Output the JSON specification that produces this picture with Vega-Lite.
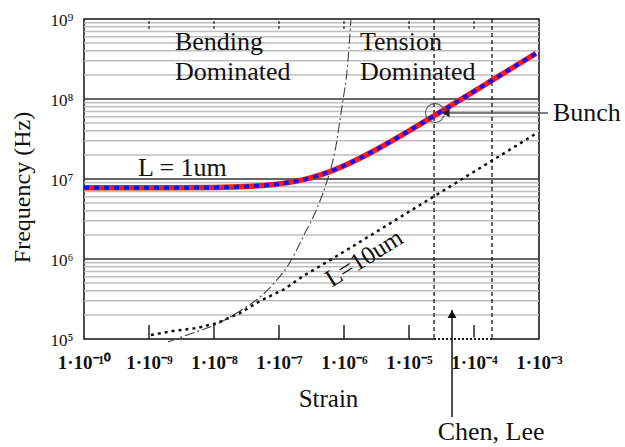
{
  "$schema": "https://vega.github.io/schema/vega-lite/v6.json",
  "width": 455,
  "height": 320,
  "autosize": {"type": "none"},
  "padding": {"left": 84, "top": 19, "right": 86, "bottom": 108},
  "background": "white",
  "config": {
    "view": {"stroke": "#111", "strokeWidth": 1.5},
    "font": "Liberation Serif"
  },
  "datasets": {
    "gridMinor": [
      {"y": 2e5}, {"y": 3e5}, {"y": 4e5}, {"y": 5e5}, {"y": 6e5}, {"y": 7e5}, {"y": 8e5}, {"y": 9e5},
      {"y": 2e6}, {"y": 3e6}, {"y": 4e6}, {"y": 5e6}, {"y": 6e6}, {"y": 7e6}, {"y": 8e6}, {"y": 9e6},
      {"y": 2e7}, {"y": 3e7}, {"y": 4e7}, {"y": 5e7}, {"y": 6e7}, {"y": 7e7}, {"y": 8e7}, {"y": 9e7},
      {"y": 2e8}, {"y": 3e8}, {"y": 4e8}, {"y": 5e8}, {"y": 6e8}, {"y": 7e8}, {"y": 8e8}, {"y": 9e8}
    ],
    "gridMajor": [{"y": 1e6}, {"y": 1e7}, {"y": 1e8}],
    "ticks": [{"x": 1e-9}, {"x": 1e-8}, {"x": 1e-7}, {"x": 1e-6}, {"x": 1e-5}, {"x": 1e-4}],
    "chen": [{"x": 2.43e-5}, {"x": 1.89e-4}],
    "l1": [
      {"x": 1e-10, "y": 7.75e6}, {"x": 1e-9, "y": 7.76e6}, {"x": 1e-8, "y": 7.85e6},
      {"x": 3.16e-8, "y": 8.06e6}, {"x": 1e-7, "y": 8.69e6}, {"x": 1.78e-7, "y": 9.35e6},
      {"x": 3.16e-7, "y": 1.043e7}, {"x": 5.62e-7, "y": 1.211e7}, {"x": 1e-6, "y": 1.463e7},
      {"x": 1.78e-6, "y": 1.828e7}, {"x": 3.16e-6, "y": 2.339e7}, {"x": 5.62e-6, "y": 3.042e7},
      {"x": 1e-5, "y": 4.0e7}, {"x": 1.78e-5, "y": 5.293e7}, {"x": 3.16e-5, "y": 7.02e7},
      {"x": 5.62e-5, "y": 9.335e7}, {"x": 1e-4, "y": 1.243e8}, {"x": 1.78e-4, "y": 1.658e8},
      {"x": 3.16e-4, "y": 2.208e8}, {"x": 5.62e-4, "y": 2.943e8}, {"x": 9e-4, "y": 3.72e8}
    ],
    "l10": [
      {"x": 1.07e-9, "y": 1.12e5}, {"x": 2.34e-9, "y": 1.26e5}, {"x": 5.47e-9, "y": 1.37e5},
      {"x": 1.11e-8, "y": 1.58e5}, {"x": 2.51e-8, "y": 2.11e5}, {"x": 5.1e-8, "y": 2.99e5},
      {"x": 1.15e-7, "y": 4.1e5}, {"x": 2.34e-7, "y": 6.1e5}, {"x": 5.62e-7, "y": 9.3e5},
      {"x": 1e-6, "y": 1.235e6}, {"x": 3.16e-6, "y": 2.19e6}, {"x": 1e-5, "y": 3.9e6},
      {"x": 3.16e-5, "y": 6.93e6}, {"x": 1e-4, "y": 1.233e7}, {"x": 3.16e-4, "y": 2.19e7},
      {"x": 9e-4, "y": 3.7e7}
    ],
    "boundary": [
      {"x": 1.96e-9, "y": 9.2e4}, {"x": 4.28e-9, "y": 1.155e5}, {"x": 1.11e-8, "y": 1.54e5},
      {"x": 2.51e-8, "y": 2.24e5}, {"x": 5.1e-8, "y": 3.35e5}, {"x": 9.31e-8, "y": 5.47e5},
      {"x": 1.33e-7, "y": 7.94e5}, {"x": 1.64e-7, "y": 1.06e6}, {"x": 2.51e-7, "y": 2.11e6},
      {"x": 3.58e-7, "y": 3.76e6}, {"x": 4.75e-7, "y": 6.68e6}, {"x": 5.67e-7, "y": 1.03e7},
      {"x": 6.78e-7, "y": 1.73e7}, {"x": 7.8e-7, "y": 3.07e7}, {"x": 8.67e-7, "y": 5.47e7},
      {"x": 9.66e-7, "y": 9.72e7}, {"x": 1.11e-6, "y": 2.18e8}, {"x": 1.28e-6, "y": 1.0e9}
    ],
    "notes": [
      {"x": 2.51e-9, "y": 5.16e8, "text": "Bending"},
      {"x": 2.51e-9, "y": 2.18e8, "text": "Dominated"},
      {"x": 1.76e-6, "y": 5.16e8, "text": "Tension"},
      {"x": 1.76e-6, "y": 2.18e8, "text": "Dominated"},
      {"x": 6.78e-10, "y": 1.37e7, "text": "L = 1um"},
      {"x": 1.64e-3, "y": 6.68e7, "text": "Bunch"}
    ]
  },
  "layer": [
    {
      "data": {"name": "gridMinor"},
      "mark": {"type": "rule", "color": "#bdbdbd", "strokeWidth": 1.5},
      "encoding": {"y": {"field": "y", "type": "quantitative"}}
    },
    {
      "data": {"name": "gridMajor"},
      "mark": {"type": "rule", "color": "#333333", "strokeWidth": 1.5},
      "encoding": {"y": {"field": "y", "type": "quantitative"}}
    },
    {
      "data": {"name": "ticks"},
      "mark": {"type": "rule", "color": "#222222", "strokeWidth": 1.5},
      "encoding": {
        "x": {"field": "x", "type": "quantitative"},
        "y": {"datum": 1e5},
        "y2": {"datum": 1.5e5}
      }
    },
    {
      "data": {"name": "ticks"},
      "mark": {"type": "rule", "color": "#222222", "strokeWidth": 1.2, "strokeDash": [3, 2]},
      "encoding": {
        "x": {"field": "x", "type": "quantitative"},
        "y": {"datum": 7.5e8},
        "y2": {"datum": 1e9}
      }
    },
    {
      "data": {"name": "chen"},
      "mark": {"type": "rule", "color": "#111111", "strokeWidth": 1.3, "strokeDash": [4, 3]},
      "encoding": {"x": {"field": "x", "type": "quantitative"}}
    },
    {
      "data": {"values": [{"x": 2.43e-5, "x2": 1.89e-4}]},
      "mark": {"type": "rule", "color": "white", "strokeWidth": 3},
      "encoding": {
        "x": {"field": "x", "type": "quantitative"},
        "x2": {"field": "x2"},
        "y": {"datum": 1e5}
      }
    },
    {
      "data": {"values": [{"x": 2.43e-5, "x2": 1.89e-4}]},
      "mark": {"type": "rule", "color": "#111111", "strokeWidth": 2, "strokeDash": [2, 2]},
      "encoding": {
        "x": {"field": "x", "type": "quantitative"},
        "x2": {"field": "x2"},
        "y": {"datum": 1e5}
      }
    },
    {
      "data": {"name": "boundary"},
      "mark": {"type": "line", "color": "#444444", "strokeWidth": 1.1, "strokeDash": [10, 3, 2, 3], "interpolate": "monotone"},
      "encoding": {
        "x": {"field": "x", "type": "quantitative"},
        "y": {"field": "y", "type": "quantitative"}
      }
    },
    {
      "data": {"name": "l10"},
      "mark": {"type": "line", "color": "#111111", "strokeWidth": 2.5, "strokeDash": [3, 4]},
      "encoding": {
        "x": {"field": "x", "type": "quantitative"},
        "y": {"field": "y", "type": "quantitative"}
      }
    },
    {
      "data": {"name": "l1"},
      "mark": {"type": "line", "color": "#ff1a1a", "strokeWidth": 5.5, "interpolate": "monotone"},
      "encoding": {
        "x": {
          "field": "x", "type": "quantitative",
          "scale": {"type": "log", "domain": [1e-10, 1e-3], "nice": false},
          "axis": {
            "values": [1e-10, 1e-9, 1e-8, 1e-7, 1e-6, 1e-5, 1e-4, 1e-3],
            "labelExpr": "datum.value < 5e-10 ? '1·10⁻¹⁰' : datum.value < 5e-9 ? '1·10⁻⁹' : datum.value < 5e-8 ? '1·10⁻⁸' : datum.value < 5e-7 ? '1·10⁻⁷' : datum.value < 5e-6 ? '1·10⁻⁶' : datum.value < 5e-5 ? '1·10⁻⁵' : datum.value < 5e-4 ? '1·10⁻⁴' : '1·10⁻³'",
            "grid": false, "ticks": false, "domain": false,
            "labelFont": "Liberation Serif", "labelFontSize": 19, "labelFontWeight": "bold",
            "labelColor": "#111111", "labelPadding": 14, "labelBaseline": "top",
            "labelFlush": false, "labelOverlap": false,
            "title": "Strain", "titleFont": "Liberation Serif", "titleFontSize": 25,
            "titleFontWeight": "normal", "titleColor": "#111111",
            "titleX": 244, "titleY": 59, "titleBaseline": "middle", "titleAnchor": "middle"
          }
        },
        "y": {
          "field": "y", "type": "quantitative",
          "scale": {"type": "log", "domain": [1e5, 1e9], "nice": false},
          "axis": {
            "values": [1e5, 1e6, 1e7, 1e8, 1e9],
            "labelExpr": "datum.value < 5e5 ? '10⁵' : datum.value < 5e6 ? '10⁶' : datum.value < 5e7 ? '10⁷' : datum.value < 5e8 ? '10⁸' : '10⁹'",
            "grid": false, "ticks": false, "domain": false,
            "labelFont": "Liberation Serif", "labelFontSize": 17,
            "labelColor": "#111111", "labelPadding": 11, "labelBaseline": "middle",
            "labelOffset": 1, "labelFlush": false, "labelOverlap": false,
            "title": "Frequency (Hz)", "titleFont": "Liberation Serif", "titleFontSize": 24,
            "titleFontWeight": "normal", "titleColor": "#111111",
            "titleAngle": -90, "titleX": -62, "titleY": 168, "titleBaseline": "middle", "titleAlign": "center"
          }
        }
      }
    },
    {
      "data": {"name": "l1"},
      "mark": {"type": "line", "color": "#1010ff", "strokeWidth": 4, "strokeDash": [5, 5], "interpolate": "monotone"},
      "encoding": {
        "x": {"field": "x", "type": "quantitative"},
        "y": {"field": "y", "type": "quantitative"}
      }
    },
    {
      "data": {"values": [{"x": 2.51e-5, "y": 6.68e7}]},
      "mark": {"type": "point", "shape": "circle", "size": 361, "filled": false, "stroke": "#444444", "strokeWidth": 1.3},
      "encoding": {
        "x": {"field": "x", "type": "quantitative"},
        "y": {"field": "y", "type": "quantitative"}
      }
    },
    {
      "data": {"values": [{"x": 3.71e-5, "x2": 1.375e-3, "y": 6.68e7}]},
      "mark": {"type": "rule", "color": "#555555", "strokeWidth": 1.6},
      "encoding": {
        "x": {"field": "x", "type": "quantitative"},
        "x2": {"field": "x2"},
        "y": {"field": "y", "type": "quantitative"}
      }
    },
    {
      "data": {"values": [{"x": 3.71e-5, "y": 6.68e7}]},
      "mark": {"type": "point", "shape": "triangle-left", "size": 70, "filled": true, "color": "#222222", "opacity": 1},
      "encoding": {
        "x": {"field": "x", "type": "quantitative"},
        "y": {"field": "y", "type": "quantitative"}
      }
    },
    {
      "data": {"values": [{"x": 4.59e-5, "y": 2.3e5, "y2": 1.06e4}]},
      "mark": {"type": "rule", "color": "#222222", "strokeWidth": 1.6},
      "encoding": {
        "x": {"field": "x", "type": "quantitative"},
        "y": {"field": "y", "type": "quantitative"},
        "y2": {"field": "y2"}
      }
    },
    {
      "data": {"values": [{"x": 4.59e-5, "y": 2.05e5}]},
      "mark": {"type": "point", "shape": "triangle-up", "size": 80, "filled": true, "color": "#111111", "opacity": 1},
      "encoding": {
        "x": {"field": "x", "type": "quantitative"},
        "y": {"field": "y", "type": "quantitative"}
      }
    },
    {
      "data": {"name": "notes"},
      "mark": {"type": "text", "font": "Liberation Serif", "fontSize": 26, "align": "left", "baseline": "middle", "color": "#111111"},
      "encoding": {
        "x": {"field": "x", "type": "quantitative"},
        "y": {"field": "y", "type": "quantitative"},
        "text": {"field": "text"}
      }
    },
    {
      "data": {"values": [{"x": 1.83e-4, "y": 6.9e3, "text": "Chen, Lee"}]},
      "mark": {"type": "text", "font": "Liberation Serif", "fontSize": 26, "align": "center", "baseline": "middle", "color": "#111111"},
      "encoding": {
        "x": {"field": "x", "type": "quantitative"},
        "y": {"field": "y", "type": "quantitative"},
        "text": {"field": "text"}
      }
    },
    {
      "data": {"values": [{"x": 2.03e-6, "y": 1.03e6, "text": "L=10um"}]},
      "mark": {"type": "text", "font": "Liberation Serif", "fontSize": 25, "align": "center", "baseline": "middle", "angle": 328, "color": "#111111"},
      "encoding": {
        "x": {"field": "x", "type": "quantitative"},
        "y": {"field": "y", "type": "quantitative"},
        "text": {"field": "text"}
      }
    }
  ]
}
